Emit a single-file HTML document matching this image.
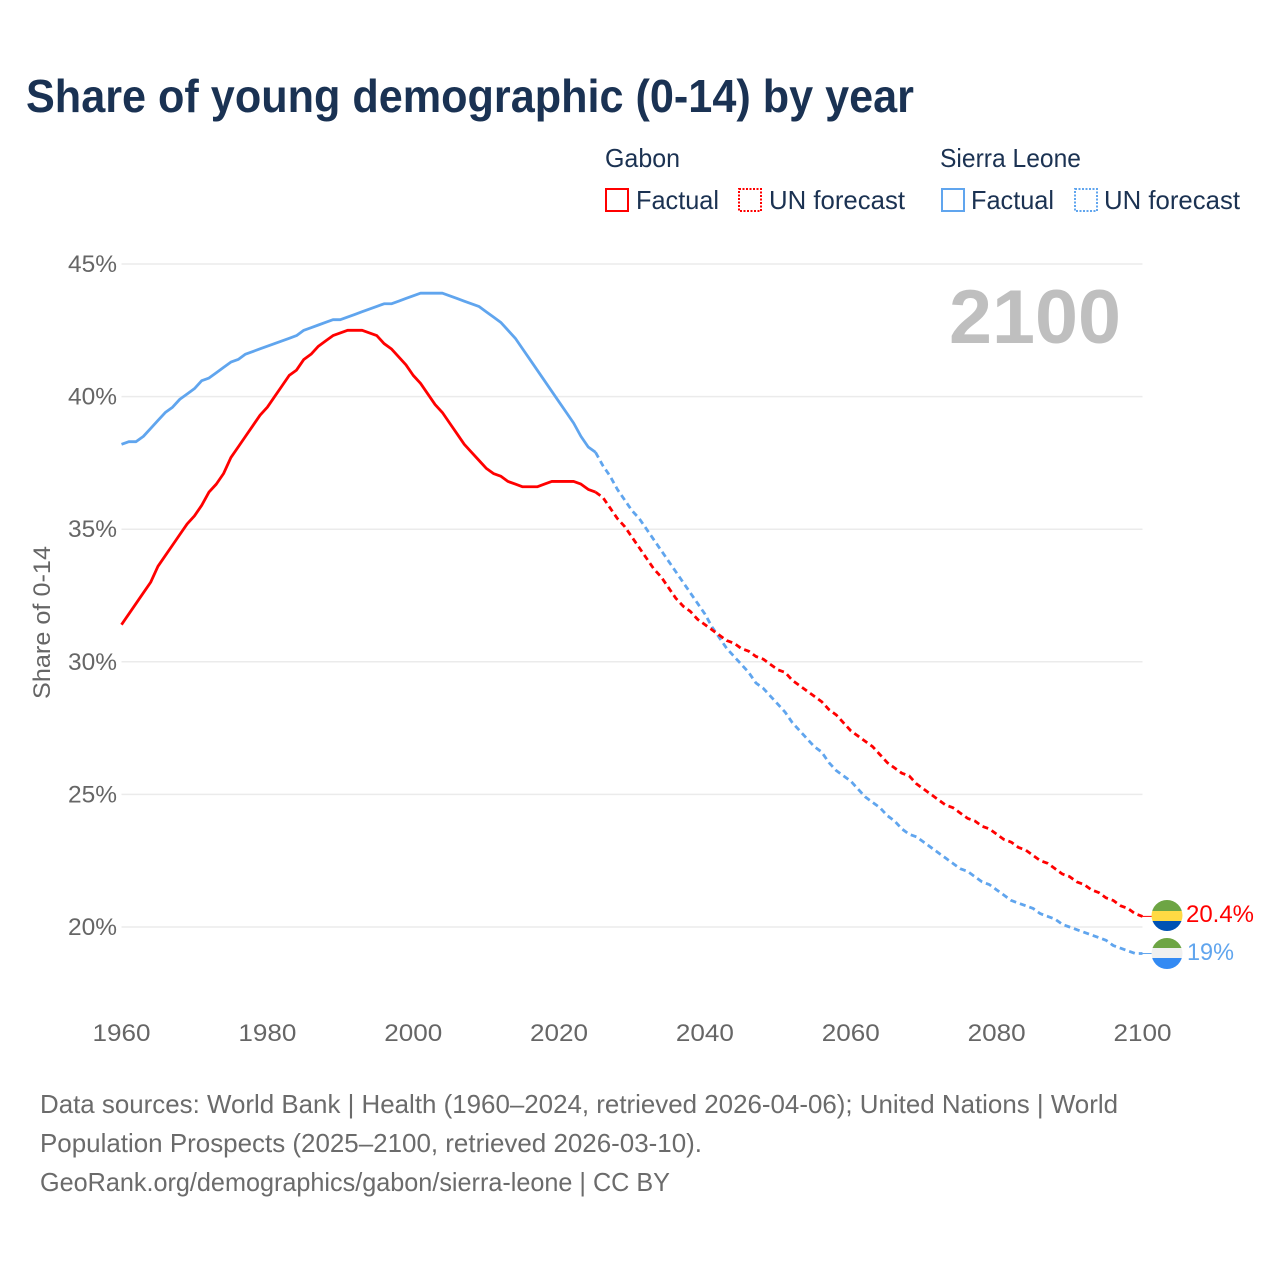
<!DOCTYPE html>
<html lang="en">
<head>
<meta charset="utf-8">
<title>Share of young demographic (0-14) by year</title>
<style>
html,body{margin:0;padding:0;background:#fff;}
svg{display:block;font-family:"Liberation Sans",sans-serif;}
.legend{font-size:26px;fill:#1b3252;}
.foot{font-size:26px;fill:#6b6b6b;}
.tick{font-size:24px;fill:#666;}
</style>
</head>
<body>
<svg id="chart" width="1280" height="1280" viewBox="0 0 1280 1280" xmlns="http://www.w3.org/2000/svg">
  <text x="26" y="112" font-size="46" font-weight="700" fill="#1a3253" textLength="888" lengthAdjust="spacingAndGlyphs">Share of young demographic (0-14) by year</text>

  <g>
    <text class="legend" x="605" y="167" textLength="75" lengthAdjust="spacingAndGlyphs">Gabon</text>
    <rect x="606" y="189" width="22" height="22" fill="none" stroke="#ff0000" stroke-width="2"/>
    <text class="legend" x="636" y="209" textLength="83" lengthAdjust="spacingAndGlyphs">Factual</text>
    <rect x="739" y="189" width="22" height="22" fill="none" stroke="#ff0000" stroke-width="2" stroke-dasharray="2 1.5"/>
    <text class="legend" x="769" y="209" textLength="136" lengthAdjust="spacingAndGlyphs">UN forecast</text>
    <text class="legend" x="940" y="167" textLength="141" lengthAdjust="spacingAndGlyphs">Sierra Leone</text>
    <rect x="942" y="189" width="22" height="22" fill="none" stroke="#60a5ee" stroke-width="2"/>
    <text class="legend" x="971" y="209" textLength="83" lengthAdjust="spacingAndGlyphs">Factual</text>
    <rect x="1075" y="189" width="22" height="22" fill="none" stroke="#60a5ee" stroke-width="2" stroke-dasharray="2 1.5"/>
    <text class="legend" x="1104" y="209" textLength="136" lengthAdjust="spacingAndGlyphs">UN forecast</text>
  </g>

  <g id="grid"></g>
  <g id="yticks"></g>
  <g id="xticks"></g>

  <text transform="translate(50,622.5) rotate(-90)" text-anchor="middle" font-size="24" fill="#666" textLength="153" lengthAdjust="spacingAndGlyphs">Share of 0-14</text>
  <text x="949" y="343" font-size="76" font-weight="700" fill="#bfbfbf" textLength="172" lengthAdjust="spacingAndGlyphs">2100</text>

  <g id="series"></g>

  <defs>
    <clipPath id="flag-clip-gabon"><circle cx="1167" cy="915.5" r="15.5"/></clipPath>
    <clipPath id="flag-clip-sl"><circle cx="1167" cy="953.5" r="15.5"/></clipPath>
  </defs>
  <g clip-path="url(#flag-clip-gabon)">
    <rect x="1150" y="899" width="34" height="12" fill="#6da544"/>
    <rect x="1150" y="911" width="34" height="10" fill="#ffda44"/>
    <rect x="1150" y="921" width="34" height="12" fill="#0052b4"/>
  </g>
  <g clip-path="url(#flag-clip-sl)">
    <rect x="1150" y="937" width="34" height="11" fill="#6da544"/>
    <rect x="1150" y="948" width="34" height="10" fill="#f0f0f0"/>
    <rect x="1150" y="958" width="34" height="12" fill="#338af3"/>
  </g>
  <text x="1186" y="922" font-size="24" fill="#ff0000" textLength="68" lengthAdjust="spacingAndGlyphs">20.4%</text>
  <text x="1187" y="960" font-size="24" fill="#60a5ee" textLength="47" lengthAdjust="spacingAndGlyphs">19%</text>

  <g>
    <text class="foot" x="40" y="1113" textLength="1078" lengthAdjust="spacingAndGlyphs">Data sources: World Bank | Health (1960–2024, retrieved 2026-04-06); United Nations | World</text>
    <text class="foot" x="40" y="1152" textLength="662" lengthAdjust="spacingAndGlyphs">Population Prospects (2025–2100, retrieved 2026-03-10).</text>
    <text class="foot" x="40" y="1191" textLength="630" lengthAdjust="spacingAndGlyphs">GeoRank.org/demographics/gabon/sierra-leone | CC BY</text>
  </g>
</svg>
<script>
const factualStartYear = 1960;
const forecastStartYear = 2025;
const xTickYears = [1960, 1980, 2000, 2020, 2040, 2060, 2080, 2100];
const yTickValues = [45, 40, 35, 30, 25, 20];
const yTickLabels = ["45%", "40%", "35%", "30%", "25%", "20%"];

const gabonFactual = [
  31.4,31.8,32.2,32.6,33.0,33.6,34.0,34.4,34.8,35.2,
  35.5,35.9,36.4,36.7,37.1,37.7,38.1,38.5,38.9,39.3,
  39.6,40.0,40.4,40.8,41.0,41.4,41.6,41.9,42.1,42.3,
  42.4,42.5,42.5,42.5,42.4,42.3,42.0,41.8,41.5,41.2,
  40.8,40.5,40.1,39.7,39.4,39.0,38.6,38.2,37.9,37.6,
  37.3,37.1,37.0,36.8,36.7,36.6,36.6,36.6,36.7,36.8,
  36.8,36.8,36.8,36.7,36.5,36.4
];
const sierraLeoneFactual = [
  38.2,38.3,38.3,38.5,38.8,39.1,39.4,39.6,39.9,40.1,
  40.3,40.6,40.7,40.9,41.1,41.3,41.4,41.6,41.7,41.8,
  41.9,42.0,42.1,42.2,42.3,42.5,42.6,42.7,42.8,42.9,
  42.9,43.0,43.1,43.2,43.3,43.4,43.5,43.5,43.6,43.7,
  43.8,43.9,43.9,43.9,43.9,43.8,43.7,43.6,43.5,43.4,
  43.2,43.0,42.8,42.5,42.2,41.8,41.4,41.0,40.6,40.2,
  39.8,39.4,39.0,38.5,38.1,37.9
];
const gabonForecast = [
  36.4,36.2,35.8,35.4,35.1,
  34.7,34.3,33.9,33.5,33.2,32.8,32.4,32.1,31.9,31.6,
  31.4,31.2,31.0,30.8,30.7,30.5,30.4,30.2,30.1,29.9,
  29.7,29.6,29.3,29.1,28.9,28.7,28.5,28.2,28.0,27.7,
  27.4,27.2,27.0,26.8,26.5,26.2,26.0,25.8,25.7,25.4,
  25.2,25.0,24.8,24.6,24.5,24.3,24.1,24.0,23.8,23.7,
  23.5,23.3,23.2,23.0,22.9,22.7,22.5,22.4,22.2,22.0,
  21.9,21.7,21.6,21.4,21.3,21.1,21.0,20.8,20.7,20.5,
  20.4
];
const sierraLeoneForecast = [
  37.9,37.4,37.0,36.5,36.1,
  35.7,35.4,35.0,34.6,34.2,33.8,33.4,33.0,32.6,32.2,
  31.8,31.3,30.9,30.5,30.2,29.9,29.6,29.2,29.0,28.7,
  28.4,28.1,27.7,27.4,27.1,26.8,26.6,26.2,25.9,25.7,
  25.5,25.2,24.9,24.7,24.5,24.2,24.0,23.7,23.5,23.4,
  23.2,23.0,22.8,22.6,22.4,22.2,22.1,21.9,21.7,21.6,
  21.4,21.2,21.0,20.9,20.8,20.7,20.5,20.4,20.3,20.1,
  20.0,19.9,19.8,19.7,19.6,19.5,19.3,19.2,19.1,19.0,
  19.0
];

const NS = "http://www.w3.org/2000/svg";
function xScale(year) { return 121.5 + (year - 1960) * (1142.5 - 121.5) / 140; }
function yScale(v) { return 927 + (20 - v) * (927 - 264) / 25; }
function svgEl(tag, parent) {
  const el = document.createElementNS(NS, tag);
  parent.appendChild(el);
  return el;
}
function linePath(values, startYear) {
  return values.map(function (v, i) {
    return (i ? "L" : "M") + xScale(startYear + i).toFixed(2) + " " + yScale(v).toFixed(2);
  }).join(" ");
}

const gridGroup = document.getElementById("grid");
const yGroup = document.getElementById("yticks");
const xGroup = document.getElementById("xticks");
const seriesGroup = document.getElementById("series");

yTickValues.forEach(function (v, i) {
  const gridLine = svgEl("line", gridGroup);
  
  
  gridLine.setAttribute("x1", xScale(1960));
  gridLine.setAttribute("x2", xScale(2100));
  gridLine.setAttribute("y1", yScale(v));
  gridLine.setAttribute("y2", yScale(v));
  gridLine.setAttribute("stroke", "#ebebeb");
  gridLine.setAttribute("stroke-width", "1.5");
  const yLabel = svgEl("text", yGroup);
  
  
  yLabel.setAttribute("class", "tick");
  yLabel.setAttribute("x", 68);
  yLabel.setAttribute("y", yScale(v) + 8);
  yLabel.setAttribute("textLength", 49);
  yLabel.setAttribute("lengthAdjust", "spacingAndGlyphs");
  yLabel.textContent = yTickLabels[i];
});

xTickYears.forEach(function (year) {
  const xLabel = svgEl("text", xGroup);
  
  
  xLabel.setAttribute("class", "tick");
  xLabel.setAttribute("x", xScale(year));
  xLabel.setAttribute("y", 1041);
  xLabel.setAttribute("text-anchor", "middle");
  xLabel.setAttribute("textLength", 58);
  xLabel.setAttribute("lengthAdjust", "spacingAndGlyphs");
  xLabel.textContent = String(year);
});

function drawSeries(values, startYear, color, dashed) {
  const path = svgEl("path", seriesGroup);
  
  
  path.setAttribute("d", linePath(values, startYear));
  path.setAttribute("fill", "none");
  path.setAttribute("stroke", color);
  path.setAttribute("stroke-width", "2.8");
  path.setAttribute("stroke-linejoin", "round");
  if (dashed) path.setAttribute("stroke-dasharray", "6 4");
  return path;
}
function drawConnector(value, color) {
  const connector = svgEl("line", seriesGroup);
  
  
  connector.setAttribute("x1", xScale(2100));
  connector.setAttribute("x2", 1153);
  connector.setAttribute("y1", yScale(value));
  connector.setAttribute("y2", yScale(value));
  connector.setAttribute("stroke", color);
  connector.setAttribute("stroke-width", "1");
}

drawSeries(sierraLeoneFactual, factualStartYear, "#60a5ee", false);
drawSeries(gabonFactual, factualStartYear, "#ff0000", false);
drawSeries(sierraLeoneForecast, forecastStartYear, "#60a5ee", true);
drawSeries(gabonForecast, forecastStartYear, "#ff0000", true);
drawConnector(gabonForecast[gabonForecast.length - 1], "#ff0000");
drawConnector(sierraLeoneForecast[sierraLeoneForecast.length - 1], "#60a5ee");
</script>
</body>
</html>
